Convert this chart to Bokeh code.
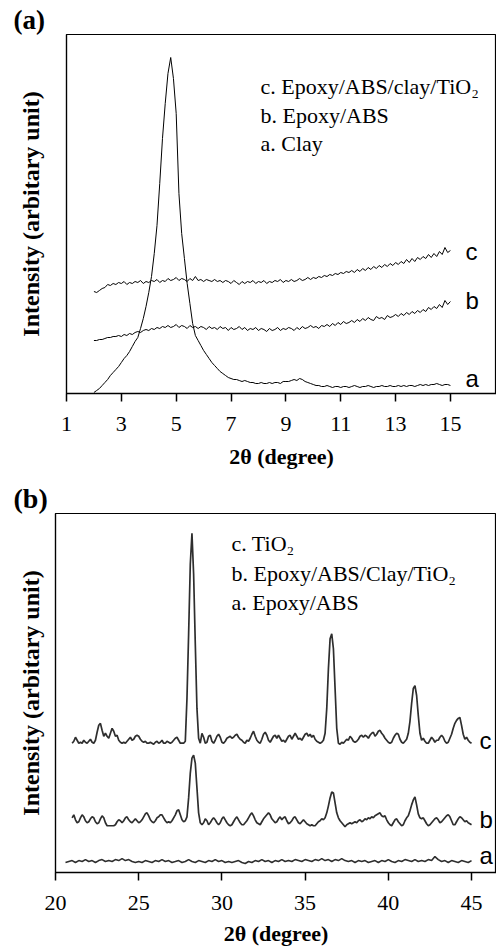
import numpy as np
from bokeh.plotting import figure
from bokeh.models import FixedTicker, Label, Range1d
from bokeh.embed import file_html
from bokeh.resources import INLINE

# ---------------- Panel (a): 2theta 2..15, step 0.1 ----------------
a_start, a_step = 2.0, 0.1
a_clay = [
    1, 3, 5, 8, 11, 14, 18, 21, 24, 27,
    31, 35, 38, 42, 47, 52, 56, 65, 75, 87,
    101, 117, 140, 168, 210, 255, 290, 320, 336, 315,
    280, 200, 160, 135, 110, 90, 70, 58, 53, 48,
    43, 39, 35, 31, 28, 25, 22, 20, 18, 16,
    15, 14, 14, 13, 12, 13, 12, 11, 11, 10,
    10, 11, 10, 10, 11, 10, 11, 11, 10, 12,
    12, 12, 13, 14, 13, 15, 14, 12, 11, 10,
    9, 8, 8, 7, 7, 8, 7, 6, 7, 7,
    6, 7, 7, 6, 7, 8, 7, 6, 7, 7,
    8, 7, 6, 7, 7, 8, 7, 7, 8, 7,
    7, 8, 7, 8, 7, 8, 8, 7, 8, 9,
    8, 9, 8, 9, 9, 10, 9, 8, 9, 9,
    8]
a_epoxy_abs = [
    53, 53, 54, 54, 55, 56, 56, 57, 57, 58,
    57, 59, 58, 60, 59, 61, 62, 61, 63, 64,
    63, 65, 64, 66, 65, 67, 66, 68, 66, 67,
    69, 66, 68, 67, 65, 68, 66, 67, 65, 67,
    66, 64, 67, 65, 66, 64, 67, 65, 66, 63,
    66, 64, 65, 67, 64, 66, 63, 65, 64, 66,
    63, 65, 64, 62, 65, 63, 64, 66, 63, 65,
    64, 66, 65, 63, 66, 64, 67, 65, 66, 68,
    66, 67, 65, 68, 67, 69, 67, 70, 68, 71,
    69, 72, 70, 71, 73, 71, 74, 72, 75, 73,
    76, 74, 73, 77, 75, 76, 74, 78, 76, 77,
    79, 77, 80, 78, 81, 79, 82, 80, 83, 81,
    84, 82, 86, 84, 87, 85, 89, 86, 93, 89,
    92]
a_epoxy_abs_clay_tio2 = [
    102, 101, 103, 105, 106, 109, 108, 110, 109, 111,
    110, 112, 109, 111, 110, 112, 111, 113, 110, 112,
    111, 113, 112, 114, 111, 113, 112, 115, 113, 114,
    116, 113, 115, 114, 112, 115, 113, 117, 113, 114,
    112, 114, 113, 112, 114, 112, 113, 111, 113, 112,
    110, 113, 111, 109, 112, 110, 112, 111, 113, 110,
    112, 111, 113, 110, 112, 111, 113, 112, 114, 111,
    113, 112, 114, 112, 113, 115, 113, 114, 116, 114,
    116, 115, 117, 116, 118, 117, 119, 118, 120, 119,
    121, 120, 122, 121, 123, 121, 124, 122, 125, 123,
    126, 124, 127, 125, 128, 126, 129, 127, 130, 128,
    131, 129, 132, 130, 134, 131, 135, 132, 136, 134,
    137, 135, 139, 136, 140, 137, 142, 139, 146, 141,
    143]
a_ticks = [1, 3, 5, 7, 9, 11, 13, 15]
a_legend = ["c. Epoxy/ABS/clay/TiO\u2082", "b. Epoxy/ABS", "a. Clay"]
a_curve_names = ["c", "b", "a"]

# ---------------- Panel (b): 2theta 21..45, step 0.1 ----------------
b_start, b_step = 21.0, 0.1
b_tio2 = [
    130, 132, 136, 133, 130, 131, 130, 133, 131, 130,
    132, 134, 131, 130, 133, 141, 148, 150, 143, 137,
    140, 137, 135, 140, 145, 142, 137, 138, 133, 131,
    130, 131, 130, 132, 134, 136, 133, 134, 137, 138,
    137, 134, 132, 131, 132, 130, 130, 131, 130, 129,
    131, 132, 130, 131, 133, 130, 130, 132, 131, 130,
    131, 133, 135, 136, 133, 130, 130, 130, 132, 175,
    240, 310, 341, 300, 230, 165, 135, 130, 140, 136,
    130, 131, 137, 138, 132, 130, 133, 137, 139, 136,
    131, 130, 132, 135, 136, 137, 135, 136, 138, 139,
    136, 134, 133, 131, 130, 133, 132, 135, 139, 142,
    137, 133, 131, 130, 134, 139, 141, 138, 133, 131,
    134, 137, 138, 135, 138, 135, 132, 133, 131, 134,
    137, 138, 134, 137, 140, 137, 134, 135, 133, 136,
    139, 140, 137, 139, 136, 138, 134, 132, 131, 130,
    131, 133, 140, 165, 205, 235, 240, 225, 185, 145,
    130, 129, 131, 130, 132, 134, 133, 137, 135, 132,
    131, 132, 134, 137, 138, 136, 138, 137, 135, 138,
    140, 141, 137, 139, 142, 143, 140, 138, 135, 133,
    131, 130, 131, 135, 138, 140, 139, 134, 131, 130,
    132, 134, 140, 152, 170, 185, 188, 178, 158, 140,
    133, 135, 132, 130, 130, 133, 136, 134, 131, 133,
    133, 136, 138, 136, 132, 130, 131, 135, 139, 145,
    150, 153, 155, 156, 148, 139, 134, 136, 133, 131,
    130]
b_epoxy_abs_clay_tio2 = [
    55, 58, 53, 50, 51, 55, 58, 56, 52, 50,
    51, 54, 56, 55, 51, 49, 50, 54, 57, 55,
    50, 47, 47, 47, 47, 47, 48, 51, 53, 52,
    50, 52, 55, 56, 53, 51, 50, 52, 54, 52,
    50, 51, 53, 56, 59, 60, 57, 53, 51, 50,
    52, 55, 56, 58, 58, 55, 52, 50, 51, 50,
    52, 55, 58, 62, 63, 58, 53, 51, 52, 56,
    75, 100, 115, 118, 110, 85, 60, 50, 48, 50,
    54, 52, 48, 50, 53, 55, 53, 50, 48, 50,
    54, 56, 53, 50, 48, 47, 48, 51, 54, 56,
    53, 50, 48, 48, 50, 52, 55, 58, 60, 57,
    53, 50, 49, 48, 51, 54, 56, 58, 60, 58,
    54, 52, 50, 51, 54, 56, 53, 55, 56, 52,
    49, 50, 52, 55, 56, 53, 50, 49, 51, 53,
    51, 49, 48, 47, 48, 47, 47, 49, 51, 52,
    54, 53, 55, 60, 67, 75, 81, 80, 70, 60,
    55, 52, 50, 48, 46, 48, 49, 50, 49, 50,
    51, 50, 52, 53, 51, 52, 54, 53, 55, 54,
    56, 55, 57, 58, 59, 60, 57, 56, 57, 53,
    50, 48, 47, 50, 53, 54, 51, 49, 47, 48,
    52, 55, 57, 62, 68, 73, 76, 68, 59, 55,
    54, 55, 52, 49, 47, 48, 50, 52, 54, 55,
    53, 50, 51, 53, 55, 57, 58, 56, 52, 48,
    48, 51, 54, 56, 55, 53, 51, 52, 50, 49,
    48]
# Epoxy/ABS in panel (b): 2theta 20.6..45, step 0.2
ba_start, ba_step = 20.6, 0.2
b_epoxy_abs = [
    10, 11, 12, 10, 12, 11, 13, 11, 12, 10,
    12, 13, 11, 12, 11, 13, 12, 14, 12, 13,
    11, 10, 11, 10, 12, 11, 10, 12, 11, 13,
    11, 12, 10, 11, 12, 10, 11, 13, 11, 10,
    12, 11, 10, 12, 11, 13, 11, 12, 10, 11,
    10, 11, 12, 10, 9, 11, 10, 12, 11, 13,
    11, 12, 10, 12, 11, 13, 11, 12, 11, 13,
    12, 11, 13, 12, 11, 13, 12, 14, 12, 13,
    11, 13, 12, 14, 12, 11, 12, 10, 12, 11,
    12, 10, 11, 12, 10, 12, 11, 13, 11, 10,
    12, 11, 13, 12, 11, 13, 11, 12, 11, 13,
    12, 16, 13, 11, 12, 10, 12, 11, 10, 12,
    11, 10, 12]
b_ticks = [20, 25, 30, 35, 40, 45]
b_legend = ["c. TiO\u2082", "b. Epoxy/ABS/Clay/TiO\u2082", "a. Epoxy/ABS"]
b_curve_names = ["c", "b", "a"]

SERIF = "Liberation Serif"
SANS = "Liberation Sans"


def grid_x(start, step, vals):
    return np.round(start + step * np.arange(len(vals)), 3)


def make_fig(height, xr, yr, ticks, left, top, bottom, tick_standoff, title_standoff,
             panel_text, panel_size, panel_offset, ylabel_standoff):
    p = figure(width=496, height=height, x_range=Range1d(*xr), y_range=Range1d(*yr),
               output_backend="svg", toolbar_location=None,
               min_border_left=left, min_border_right=0,
               min_border_top=top, min_border_bottom=bottom)
    p.outline_line_color = "black"
    p.outline_line_width = 1.2
    p.grid.visible = False
    p.background_fill_color = "white"
    p.border_fill_color = "white"
    p.title.text = panel_text
    p.title.align = "left"
    p.title.offset = panel_offset
    p.title.standoff = 0
    p.title.text_font = SERIF
    p.title.text_font_size = f"{panel_size}px"
    p.title.text_font_style = "bold"
    p.title.text_color = "black"
    xa = p.xaxis[0]
    xa.ticker = FixedTicker(ticks=ticks)
    xa.minor_tick_line_color = None
    xa.major_tick_in = 0
    xa.major_tick_out = 8
    xa.major_tick_line_width = 1.5
    xa.axis_line_width = 1.6
    xa.major_label_text_font = SERIF
    xa.major_label_text_font_size = "22px"
    xa.major_label_text_color = "black"
    xa.major_label_standoff = tick_standoff
    xa.axis_label = "2\u03b8 (degree)"
    xa.axis_label_text_font = SERIF
    xa.axis_label_text_font_size = "22px"
    xa.axis_label_text_font_style = "bold"
    xa.axis_label_text_color = "black"
    xa.axis_label_standoff = title_standoff
    ya = p.yaxis[0]
    ya.ticker = FixedTicker(ticks=[])
    ya.minor_tick_line_color = None
    ya.major_tick_out = 0
    ya.major_tick_in = 0
    ya.major_label_standoff = 0
    ya.axis_line_width = 1.2
    ya.axis_label = "Intensity (arbitary unit)"
    ya.axis_label_text_font = SERIF
    ya.axis_label_text_font_size = "24px"
    ya.axis_label_text_font_style = "bold"
    ya.axis_label_text_color = "black"
    ya.axis_label_standoff = ylabel_standoff
    return p


def lab(p, x, y, text, size, font=SERIF):
    p.add_layout(Label(x=x, y=y, x_units="screen", y_units="screen", text=text,
                       text_font=font, text_font_size=f"{size}px",
                       text_align="left", text_baseline="middle", text_color="black"))


# ---------------- figure (a) ----------------
pa = make_fig(480, (1, 16.68), (0, 359), a_ticks, 66, 34, 87, 15, 10,
              "(a)", 27, -53, 23)
for series in (a_clay, a_epoxy_abs, a_epoxy_abs_clay_tio2):
    pa.line(grid_x(a_start, a_step, series), series, line_color="black", line_width=1)
for i, t in enumerate(a_legend):
    lab(pa, 194, 307 - 28.5 * i, t, 22)
for t, yy in zip(a_curve_names, (142, 93, 15)):
    lab(pa, 399, yy, t, 24, font=SANS)

# ---------------- figure (b) ----------------
pb = make_fig(472, (20, 46.5), (0, 361), b_ticks, 55, 32, 80, 15, 8,
              "(b)", 28, -42, 12)
lc = "#2e2e2e"
pb.line(grid_x(ba_start, ba_step, b_epoxy_abs), b_epoxy_abs, line_color=lc, line_width=1.6)
pb.line(grid_x(b_start, b_step, b_epoxy_abs_clay_tio2), b_epoxy_abs_clay_tio2,
        line_color=lc, line_width=1.7)
pb.line(grid_x(b_start, b_step, b_tio2), b_tio2, line_color=lc, line_width=1.7)
for i, t in enumerate(b_legend):
    lab(pb, 176, 329 - 29.5 * i, t, 22)
for t, yy in zip(b_curve_names, (132, 53, 17)):
    lab(pb, 424, yy, t, 24, font=SANS)

open("out.html", "w").write(file_html([pa, pb], INLINE))
